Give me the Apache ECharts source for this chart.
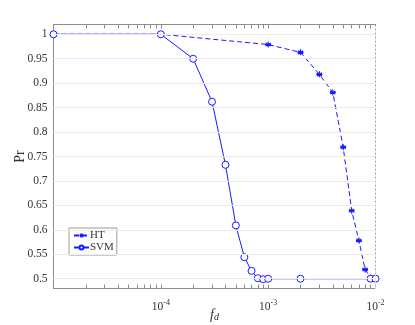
<!DOCTYPE html>
<html>
<head>
<meta charset="utf-8">
<script src="https://cdn.jsdelivr.net/npm/echarts@6/dist/echarts.min.js"></script>
<style>html,body{margin:0;padding:0;background:#fff}#c{width:415px;height:325px}</style>
</head>
<body>
<div id="c"></div>
<script>
// ---- data ----
const htX  = [1e-5, 1e-4, 1e-3, 2e-3, 3e-3, 4e-3, 5e-3, 6e-3, 7e-3, 8e-3, 9e-3, 1e-2];
const htY  = [1.0, 1.0, 0.979, 0.963, 0.918, 0.881, 0.769, 0.639, 0.578, 0.519, 0.502, 0.5];
const svmX = [1e-5, 1e-4, 2e-4, 3e-4, 4e-4, 5e-4, 6e-4, 7e-4, 8e-4, 9e-4, 1e-3, 2e-3, 9e-3, 1e-2];
const svmY = [1.0, 1.0, 0.95, 0.862, 0.733, 0.609, 0.544, 0.516, 0.501, 0.499, 0.5, 0.5, 0.5, 0.5];
const yTicks = [0.5, 0.55, 0.6, 0.65, 0.7, 0.75, 0.8, 0.85, 0.9, 0.95, 1];
const xMajor = [1e-5, 1e-4, 1e-3, 1e-2];
const xLabels = [1e-4, 1e-3, 1e-2];
const xMinor = [];
for (let e = -5; e < -2; e++) for (let m = 2; m <= 9; m++) xMinor.push(m * Math.pow(10, e));
const xAllTicks = xMajor.concat(xMinor);

const BLUE = '#1a1aff';
const AXC = '#8c8c8c';
const FONT = 'Liberation Serif';
const asterisk = 'path://M0,-5L0,5M-4.33,-2.5L4.33,2.5M-4.33,2.5L4.33,-2.5M-5,0L5,0';

const gridLines = [];
yTicks.forEach(v => gridLines.push({yAxis: v, lineStyle: {color: '#ececec', type: 'solid', width: 1}}));
xMajor.slice(1, 3).forEach(v => gridLines.push({xAxis: v, lineStyle: {color: '#ececec', type: 'solid', width: 1}}));
xMinor.forEach(v => gridLines.push({xAxis: v, lineStyle: {color: '#e8e8e8', type: [2, 2], width: 1}}));

const chart = echarts.init(document.getElementById('c'), null, {renderer: 'canvas'});
const xBase = {
  type: 'log', logBase: 10, min: 1e-5, max: 1e-2, gridIndex: 0,
  axisLine: {show: true, onZero: false, lineStyle: {color: AXC, width: 1}},
  splitLine: {show: false}, minorTick: {show: false}, minorSplitLine: {show: false}
};
const yBase = {
  type: 'value', min: 0.48, max: 1.02, gridIndex: 0,
  axisLine: {show: true, onZero: false, lineStyle: {color: AXC, width: 1}},
  splitLine: {show: false}
};
chart.setOption({
  animation: false,
  backgroundColor: '#fff',
  grid: {left: 53.5, top: 24.5, right: 39.5, bottom: 36.5, containLabel: false, outerBoundsMode: 'none',
         show: true, borderColor: AXC, borderWidth: 1, backgroundColor: 'transparent'},
  xAxis: [
    Object.assign({}, xBase, {
      position: 'bottom',
      axisTick: {show: true, inside: true, length: 4, customValues: xAllTicks, lineStyle: {color: AXC}},
      axisLabel: {
        show: true, customValues: xLabels, margin: 10,
        formatter: v => '{b|10}{s|' + Math.round(Math.log10(v)) + '}',
        rich: {
          b: {fontFamily: FONT, fontSize: 11.5, color: '#333'},
          s: {fontFamily: FONT, fontSize: 8, color: '#333', verticalAlign: 'top', padding: [0, 0, 8, 0]}
        }
      },
      name: '{i|f}{d|d}', nameLocation: 'middle', nameGap: 19, nameMoveOverlap: false,
      nameTextStyle: {
        rich: {
          i: {fontFamily: FONT, fontStyle: 'italic', fontSize: 14, color: '#333'},
          d: {fontFamily: FONT, fontStyle: 'italic', fontSize: 10, color: '#333', padding: [5, 0, 0, 0]}
        }
      }
    }),
    Object.assign({}, xBase, {
      position: 'top',
      axisTick: {show: true, inside: true, length: 4, customValues: xAllTicks, lineStyle: {color: AXC}},
      axisLabel: {show: false}
    })
  ],
  yAxis: [
    Object.assign({}, yBase, {
      position: 'left',
      axisTick: {show: true, inside: true, length: 4, customValues: yTicks, lineStyle: {color: AXC}},
      axisLabel: {show: true, customValues: yTicks, margin: 6, fontFamily: FONT, fontSize: 11.5, color: '#333'},
      name: 'Pr', nameLocation: 'middle', nameRotate: 90, nameGap: 26, nameMoveOverlap: false,
      nameTextStyle: {fontFamily: FONT, fontSize: 14, color: '#333'}
    }),
    Object.assign({}, yBase, {
      position: 'right',
      axisTick: {show: true, inside: true, length: 4, customValues: yTicks, lineStyle: {color: AXC}},
      axisLabel: {show: false}
    })
  ],
  legend: {
    left: 69, top: 228, orient: 'vertical',
    backgroundColor: '#fff', borderColor: '#9a9a9a', borderWidth: 1, borderRadius: 0,
    padding: [2, 3, 2, 4], itemGap: 1, itemWidth: 15, itemHeight: 5,
    textStyle: {fontFamily: FONT, fontSize: 11, color: '#333', padding: [0, 0, 0, -4]},
    data: ['HT', 'SVM']
  },
  series: [
    {
      name: '__grid', type: 'line', data: [], z: 1, silent: true,
      markLine: {silent: true, symbol: ['none', 'none'], label: {show: false}, animation: false, data: gridLines}
    },
    {
      name: 'HT', type: 'line', z: 3,
      data: htX.map((x, i) => [x, htY[i]]),
      symbol: asterisk, symbolSize: 6, showAllSymbol: true,
      lineStyle: {color: BLUE, width: 1, type: [5, 3]},
      itemStyle: {color: BLUE, borderColor: BLUE, borderWidth: 1.2}
    },
    {
      name: 'SVM', type: 'line', z: 3,
      data: svmX.map((x, i) => [x, svmY[i]]),
      symbol: 'circle', symbolSize: 7, showAllSymbol: true,
      lineStyle: {color: BLUE, width: 1, type: 'solid'},
      itemStyle: {color: '#fff', borderColor: BLUE, borderWidth: 1}
    }
  ]
});
</script>
</body>
</html>
